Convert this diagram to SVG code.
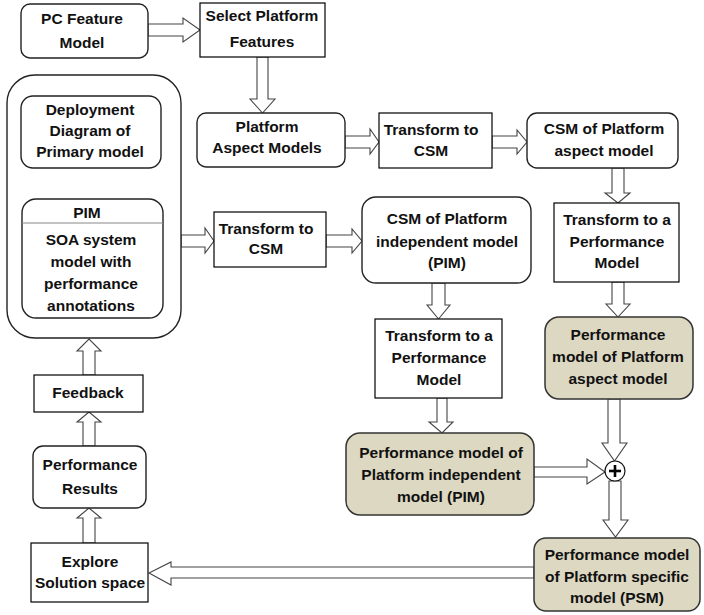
<svg xmlns="http://www.w3.org/2000/svg" width="704" height="615" viewBox="0 0 704 615">
<style>
.bx{fill:#fff;stroke:#000;stroke-width:1.2}
.rb{fill:#fff;stroke:#222;stroke-width:1.4}
.tan{fill:#ddd8c2;stroke:#333;stroke-width:1.5}
.ar{fill:#fff;stroke:#444;stroke-width:1.1;stroke-linejoin:miter}
text{font-family:"Liberation Sans",Arial,sans-serif;font-weight:bold;font-size:15.5px;fill:#111;text-anchor:middle}
</style>
<rect width="704" height="615" fill="#fff"/>
<g id="connectors">
<polygon class="ar" points="148,24 183,24 183,18 200,30 183,42 183,36 148,36"/>
<polygon class="ar" points="257,57 257,99 250,99 262.5,113 275,99 268,99 268,57"/>
<polygon class="ar" points="345,136 370,136 370,129 379,142 370,154 370,148 345,148"/>
<polygon class="ar" points="492,136 517,136 517,130 527,142 517,154 517,148 492,148"/>
<polygon class="ar" points="612,168 612,193 605,193 618,203 630,193 624,193 624,168"/>
<polygon class="ar" points="181,235 205,235 205,228 214,241 205,253 205,247 181,247"/>
<polygon class="ar" points="326,235 352,235 352,229 362,241 352,253 352,247 326,247"/>
<polygon class="ar" points="432,283 432,305 427,305 438.5,319 450,305 445,305 445,283"/>
<polygon class="ar" points="437,398 437,422 429,422 442,433 453,422 447,422 447,398"/>
<polygon class="ar" points="612,282 612,304 606,304 618,317 630,304 624,304 624,282"/>
<polygon class="ar" points="608,399 608,443 602,443 614.5,461 627,443 620,443 620,399"/>
<polygon class="ar" points="534,467 587,467 587,459 605,472 587,484 587,477 534,477"/>
<polygon class="ar" points="609,481 609,520 603,520 615.5,537 628,520 621,520 621,481"/>
<polygon class="ar" points="534,567 171,567 171,562 149,573 171,585 171,578 534,578"/>
<polygon class="ar" points="83,543 83,518 77,518 89,508 101,518 95,518 95,543"/>
<polygon class="ar" points="83,446 83,422 77,422 89,412 101,422 95,422 95,446"/>
<polygon class="ar" points="83,375 83,351 77,351 89,339 101,351 95,351 95,375"/>
</g>
<g id="pc-feature-model">
<rect class="rb" x="21" y="4" width="127" height="54" rx="9"/>
<text x="82" y="24">PC Feature</text>
<text x="82" y="48">Model</text>
</g>
<g id="select-platform-features">
<rect class="bx" x="200" y="3" width="125" height="54"/>
<text x="262" y="21">Select Platform</text>
<text x="262" y="47">Features</text>
</g>
<g id="platform-aspect-models">
<rect class="rb" x="197" y="113" width="148" height="54" rx="9"/>
<text x="267" y="132">Platform</text>
<text x="267" y="153">Aspect Models</text>
</g>
<g id="primary-model-container">
<rect class="rb" x="7" y="75" width="174" height="263" rx="28"/>
</g>
<g id="deployment-diagram">
<rect class="rb" x="21" y="96" width="140" height="72" rx="12"/>
<text x="90" y="115">Deployment</text>
<text x="90" y="136">Diagram of</text>
<text x="90" y="157">Primary model</text>
</g>
<g id="pim">
<rect class="rb" x="22" y="199" width="141" height="119" rx="14"/>
<line x1="22" y1="223" x2="163" y2="223" stroke="#888" stroke-width="1.2"/>
<text x="87" y="218">PIM</text>
<text x="91" y="245">SOA system</text>
<text x="91" y="267">model with</text>
<text x="91" y="289">performance</text>
<text x="91" y="311">annotations</text>
</g>
<g id="transform-to-csm-1">
<rect class="bx" x="214" y="212" width="112" height="55"/>
<text x="266" y="234">Transform to</text>
<text x="266" y="254">CSM</text>
</g>
<g id="transform-to-csm-2">
<rect class="bx" x="379" y="113" width="113" height="55"/>
<text x="431" y="135">Transform to</text>
<text x="431" y="156">CSM</text>
</g>
<g id="csm-platform-aspect">
<rect class="rb" x="527" y="113" width="151" height="55" rx="10"/>
<text x="604" y="134">CSM of Platform</text>
<text x="604" y="156">aspect model</text>
</g>
<g id="csm-platform-independent">
<rect class="rb" x="362" y="197" width="169" height="86" rx="14"/>
<text x="447" y="224">CSM of Platform</text>
<text x="447" y="247">independent model</text>
<text x="447" y="268">(PIM)</text>
</g>
<g id="transform-perf-right">
<rect class="bx" x="554" y="203" width="125" height="79"/>
<text x="617" y="225">Transform to a</text>
<text x="617" y="247">Performance</text>
<text x="617" y="268">Model</text>
</g>
<g id="transform-perf-mid">
<rect class="bx" x="375" y="319" width="127" height="79"/>
<text x="439" y="341">Transform to a</text>
<text x="439" y="363">Performance</text>
<text x="439" y="385">Model</text>
</g>
<g id="perf-platform-independent">
<rect class="tan" x="346" y="433" width="188" height="82" rx="14"/>
<text x="441" y="458">Performance model of</text>
<text x="441" y="480">Platform independent</text>
<text x="441" y="502">model (PIM)</text>
</g>
<g id="perf-platform-aspect">
<rect class="tan" x="545" y="317" width="148" height="82" rx="14"/>
<text x="618" y="340">Performance</text>
<text x="618" y="362">model of Platform</text>
<text x="618" y="384">aspect model</text>
</g>
<g id="combine">
<circle cx="615" cy="471" r="10" fill="#fff" stroke="#111" stroke-width="1.2"/>
<line x1="609" y1="471" x2="621" y2="471" stroke="#000" stroke-width="2.6"/>
<line x1="615" y1="465" x2="615" y2="477" stroke="#000" stroke-width="2.6"/>
</g>
<g id="perf-platform-specific">
<rect class="tan" x="534" y="538" width="166" height="73" rx="12"/>
<text x="617" y="560">Performance model</text>
<text x="617" y="582">of Platform specific</text>
<text x="617" y="603">model (PSM)</text>
</g>
<g id="feedback">
<rect class="bx" x="34" y="375" width="109" height="37"/>
<text x="88" y="398">Feedback</text>
</g>
<g id="performance-results">
<rect class="rb" x="33" y="446" width="113" height="62" rx="10"/>
<text x="90" y="470">Performance</text>
<text x="90" y="494">Results</text>
</g>
<g id="explore-solution-space">
<rect class="bx" x="31" y="543" width="117" height="59"/>
<text x="90" y="567">Explore</text>
<text x="90" y="588">Solution space</text>
</g>
</svg>
